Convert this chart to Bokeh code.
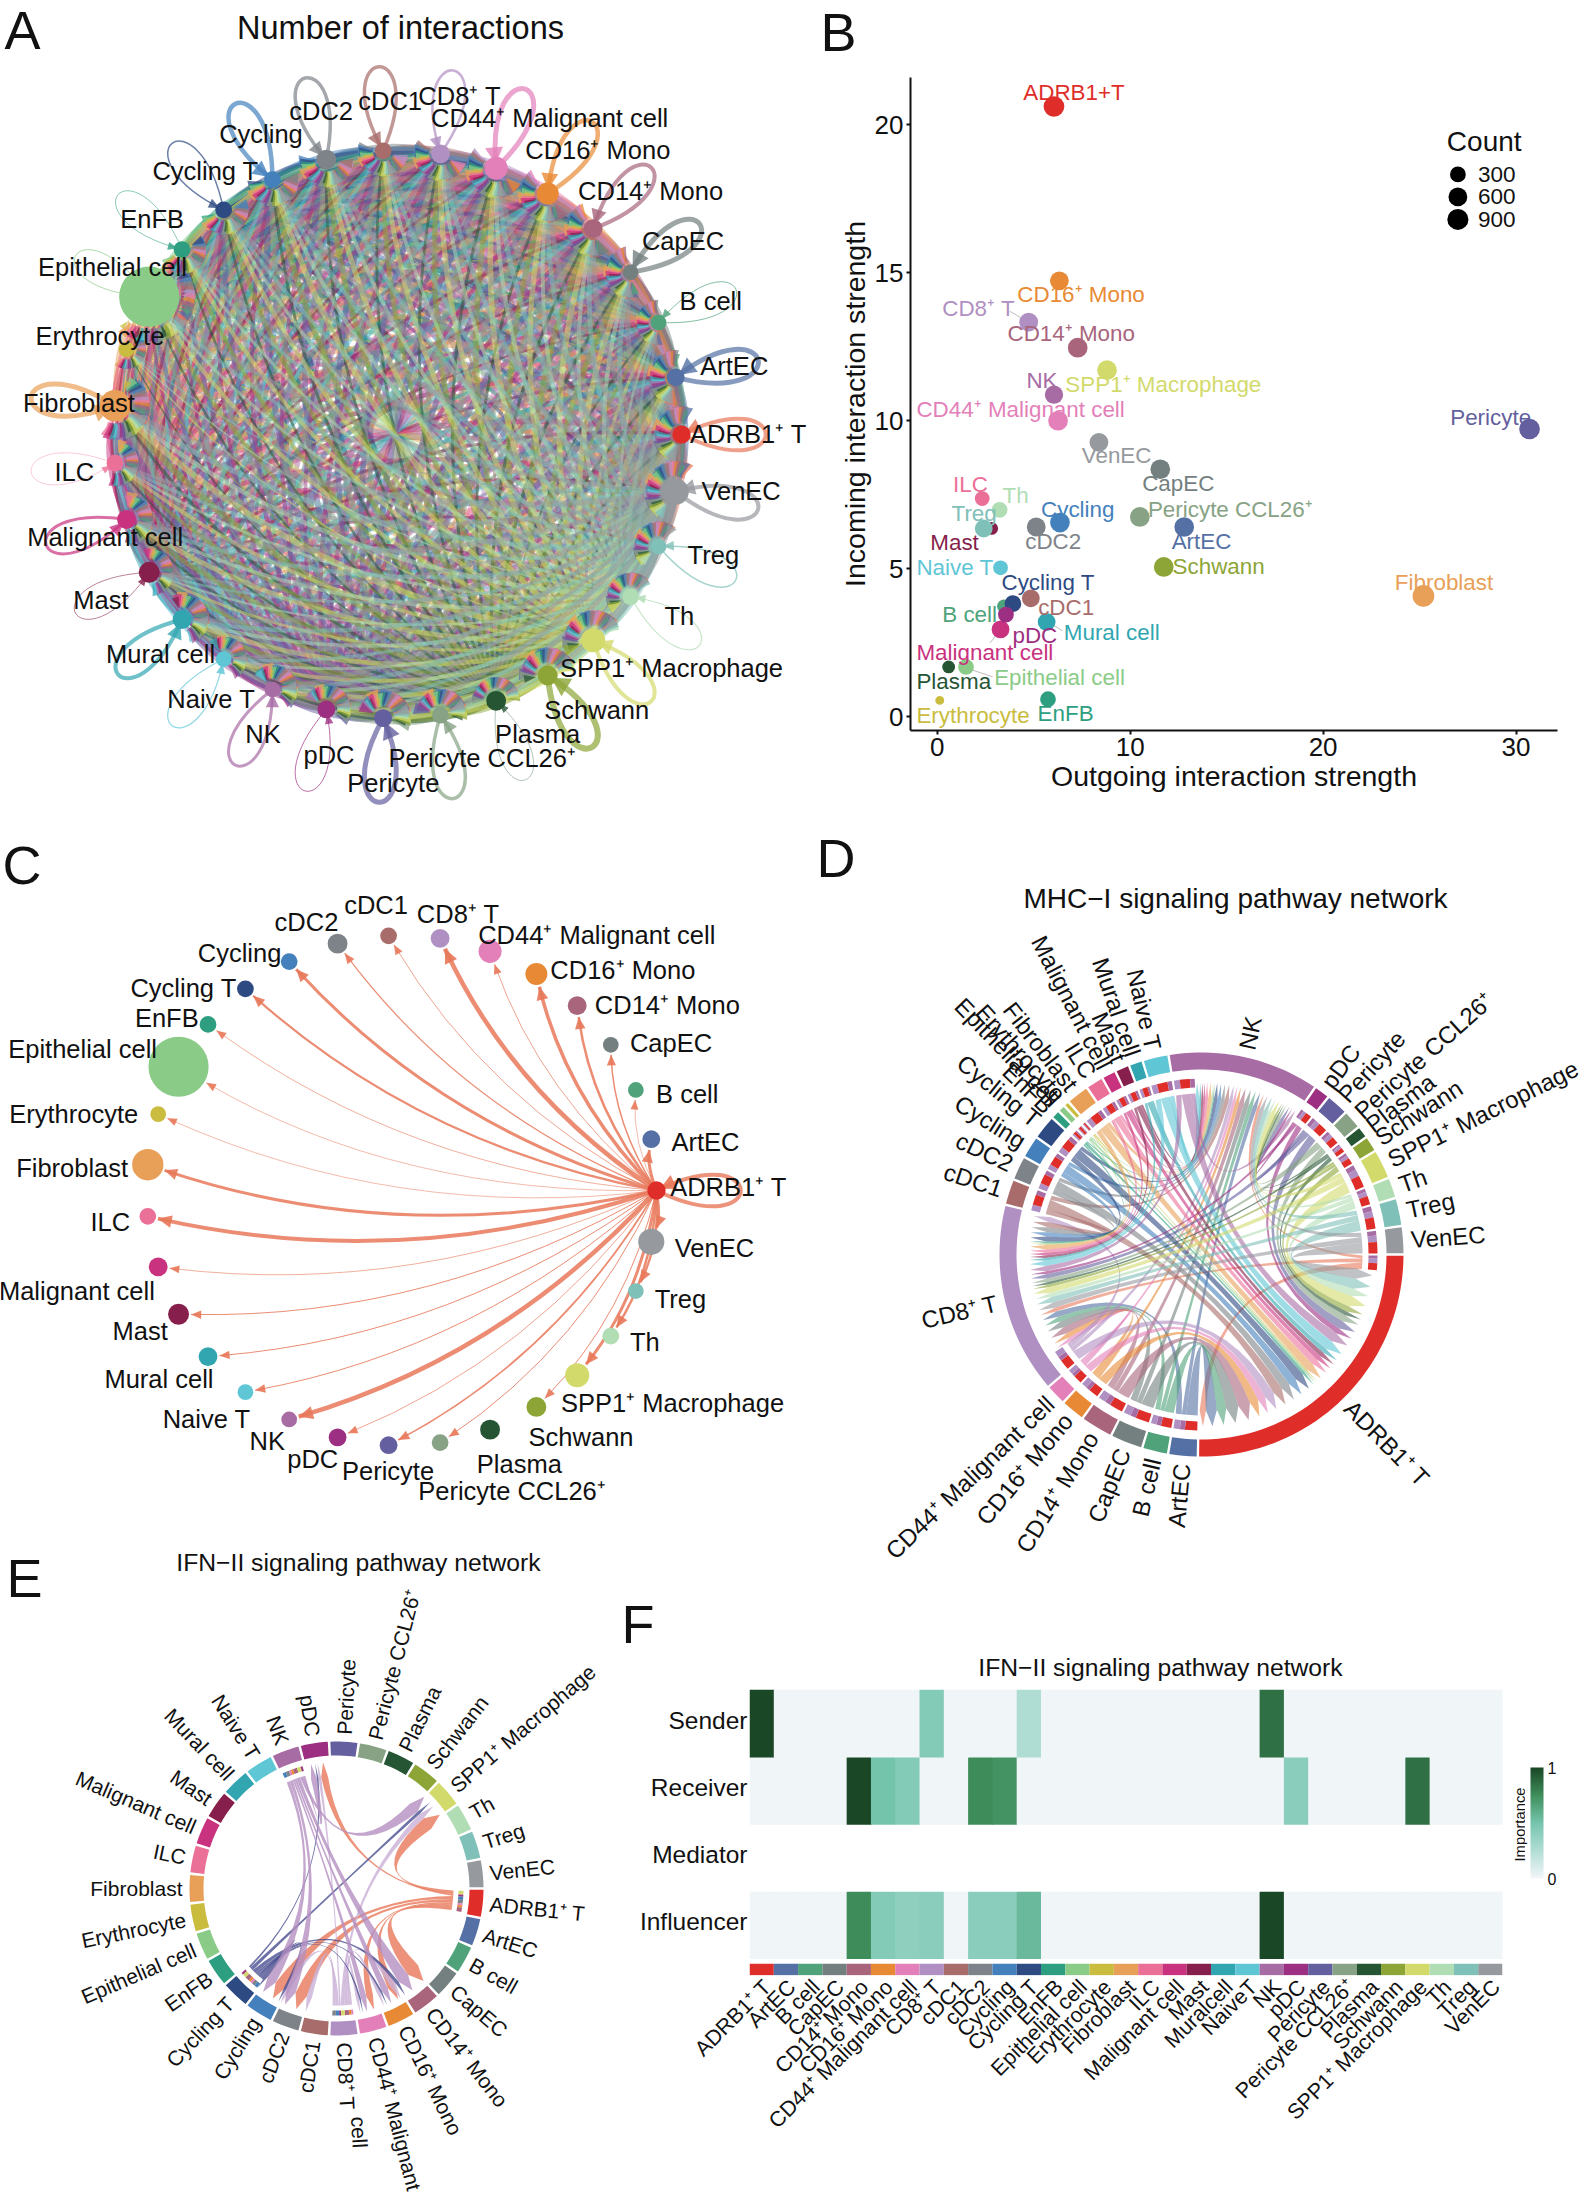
import math
from bokeh.plotting import figure
from bokeh.layouts import row, column
from bokeh.models import ColumnDataSource, Range1d, FixedTicker, LinearColorMapper, ColorBar
from bokeh.core.properties import value
from bokeh.embed import file_html
from bokeh.resources import INLINE

FONT = "Liberation Sans"

# ---------- shared data ----------
cells = ["ADRB1⁺ T", "ArtEC", "B cell", "CapEC", "CD14⁺ Mono", "CD16⁺ Mono", "CD44⁺ Malignant cell", "CD8⁺ T",
         "cDC1", "cDC2", "Cycling", "Cycling T", "EnFB", "Epithelial cell", "Erythrocyte", "Fibroblast", "ILC",
         "Malignant cell", "Mast", "Mural cell", "Naive T", "NK", "pDC", "Pericyte", "Pericyte CCL26⁺", "Plasma",
         "Schwann", "SPP1⁺ Macrophage", "Th", "Treg", "VenEC"]
colors = ["#DF2E2A", "#5470A4", "#4FA27A", "#73807F", "#A8657C", "#E88A35", "#E37FB9", "#B08FC2",
          "#A86C6A", "#7E8389", "#4481BC", "#2E4A82", "#2D9F80", "#8BCB88", "#C9BC3F", "#E8A058", "#EB7098",
          "#C9327F", "#861F4B", "#31A6B1", "#5FC6D6", "#A86CA5", "#9C2F82", "#645F9F", "#87A284", "#265533",
          "#8CA536", "#D3DA6C", "#B0DDB4", "#7FC0B8", "#96999E"]
chord_colors = ["#E8785A"] + colors[1:]
salmon = "#E8785A"

# B: outgoing, incoming, count
outgoing = [6.05, 12.8, 3.46, 11.56, 7.28, 6.33, 6.26, 4.74, 4.85, 5.13, 6.36, 3.92, 5.74, 1.49, 0.13, 25.2, 2.33,
            3.28, 2.82, 5.67, 3.28, 6.05, 3.56, 30.7, 10.5, 0.59, 11.74, 8.8, 3.23, 2.41, 8.38]
incoming = [20.62, 6.41, 3.73, 8.36, 12.47, 14.73, 10.0, 13.33, 4.0, 6.41, 6.56, 3.82, 0.59, 1.68, 0.55, 4.08, 7.37,
            2.95, 6.36, 3.2, 5.03, 10.88, 3.45, 9.72, 6.75, 1.68, 5.06, 11.71, 6.99, 6.36, 9.27]
counts = [844, 711, 159, 711, 711, 600, 711, 600, 490, 600, 711, 390, 302, 302, 1, 988, 225,
          490, 105, 490, 225, 544, 302, 844, 711, 105, 711, 711, 302, 490, 600]
legend_counts = [300, 600, 900]
b_names = ["ADRB1+T"] + cells[1:]
b_lab_x = [4.46, 12.15, 0.26, 10.62, 3.64, 4.15, -1.08, 0.26, 5.23, 4.56, 5.38, 3.33, 5.2, 2.95, -1.08, 23.72, 0.82,
           -1.08, -0.36, 6.56, -1.08, 4.62, 3.9, 26.59, 10.92, -1.08, 12.2, 6.64, 3.38, 0.74, 7.49]
b_lab_y = [21.09, 5.92, 3.45, 7.88, 12.94, 14.25, 10.38, 13.8, 3.68, 5.92, 7.01, 4.54, 0.1, 1.31, 0.05, 4.54, 7.86,
           2.16, 5.87, 2.83, 5.03, 11.36, 2.73, 10.1, 7.01, 1.19, 5.06, 11.23, 7.48, 6.86, 8.81]
b_lead_x0 = [3.76, 2.75, 1.7, 6.0]
b_lead_y0 = [13.7, 2.5, 1.6, 3.1]
b_lead_x1 = [4.74, 3.28, 2.87, 6.5]
b_lead_y1 = [13.33, 2.95, 1.35, 2.9]

# A/C: network
vertex_size = [35, 34, 30, 30, 36, 42, 44, 36, 32, 38, 32, 32, 32, 115, 30, 60, 32, 36, 40, 36, 30, 30, 34, 34, 32, 38,
               38, 46, 32, 30, 50]
loop_width = [4, 5, 1, 5, 4, 4.5, 5, 2.5, 3.5, 3.5, 4.5, 1.5, 0.8, 1, 0, 5, 0.5, 3, 0.8, 4, 1.2, 3, 1, 5, 3.5, 0.5,
              6, 4, 1.2, 1.5, 4]
adrb1_edges = [4, 3, 0.6, 1.5, 2.5, 3.5, 0.8, 4.5, 0.8, 1.2, 3, 2.2, 0.7, 0.6, 0.6, 3, 4, 0.7, 1, 1, 1, 4.5, 0.8, 1.8,
               1, 0, 1, 3, 2.5, 2.5, 2.5]

a_lab_x = [1430, 1403, 1358, 1305, 1243, 1142, 1050, 878, 745, 613, 498, 392, 290, 214, 190, 150, 141, 200, 192, 306,
           403, 502, 628, 751, 921, 1027, 1140, 1283, 1298, 1363, 1416]
a_lab_y = [828, 698, 574, 460, 365, 285, 225, 182, 193, 212, 256, 326, 418, 510, 642, 770, 901, 1026, 1146, 1250, 1335,
           1403, 1442, 1497, 1449, 1403, 1357, 1276, 1176, 1060, 938]
c_lab_x = [1392, 1348, 1313, 1282, 1275, 1190, 1140, 875, 718, 585, 457, 350, 318, 157, 140, 137, 210, 146, 267, 303,
           394, 510, 597, 741, 978, 992, 1110, 1285, 1232, 1300, 1365]
c_lab_y = [798, 697, 590, 476, 390, 313, 234, 186, 166, 206, 274, 352, 420, 490, 635, 757, 878, 1031, 1122, 1228, 1318,
           1367, 1407, 1435, 1480, 1418, 1358, 1282, 1146, 1049, 936]

# D: MHC-I flows from each cell type to the three receivers
mhc_to_adrb1 = [2.4, 4.2, 3.6, 4.7, 4.6, 3.3, 2.9, 3.6, 3.5, 3.3, 3.1, 3.3, 1.0, 0.8, 0.5, 3.1, 2.3, 1.8, 1.8, 1.8, 3.6,
                3.5, 2.1, 3.1, 2.5, 1.5, 2.1, 4.1, 2.9, 3.9, 3.9]
mhc_to_cd8 = [1.5, 2.2, 1.9, 2.5, 2.6, 1.9, 1.6, 2.0, 2.0, 1.9, 1.7, 1.9, 0.6, 0.4, 0.3, 1.7, 1.3, 1.0, 1.0, 1.0, 2.0,
              2.0, 1.1, 1.7, 1.4, 0.9, 1.1, 2.3, 1.6, 2.1, 2.2]
mhc_to_nk = [1.1, 1.7, 1.6, 1.9, 1.9, 1.4, 1.1, 1.5, 1.6, 1.4, 1.3, 1.4, 0.4, 0.35, 0.2, 1.3, 1.0, 0.8, 0.8, 0.7, 1.5,
             1.6, 0.9, 1.3, 1.1, 0.6, 0.9, 1.7, 1.1, 1.7, 1.6]
mhc_receivers = [0, 7, 21]

# E: IFN-II flows
ifn_senders = [0, 7, 11, 21]
ifn_sender_colors = [salmon, "#C9B0D6", "#4A4F90", "#B48FC0"]
ifn_receivers = [4, 5, 6, 9, 10, 22, 27]
ifn_flow = [[1.0, 0.55, 0.5, 0.85, 0.8, 0.5, 0.95],
            [0.45, 0.25, 0.22, 0.38, 0.36, 0.2, 0.42],
            [0.25, 0.14, 0.12, 0.2, 0.2, 0.12, 0.22],
            [0.85, 0.47, 0.42, 0.72, 0.7, 0.42, 0.8]]

# F: heatmap
f_names = [c.replace("Mural cell", "Muralcell").replace("Naive T", "NaiveT") for c in cells]
f_roles = ["Influencer", "Mediator", "Receiver", "Sender"]
f_sender = {0: 1.0, 7: 0.45, 11: 0.25, 21: 0.85}
f_receiver = {4: 1.0, 5: 0.5, 6: 0.45, 9: 0.75, 10: 0.72, 22: 0.42, 27: 0.85}
f_influencer = {4: 0.75, 5: 0.45, 6: 0.4, 7: 0.42, 9: 0.42, 10: 0.42, 11: 0.55, 21: 1.0}
importance_colors = ["#F0F5F8", "#B0DDD5", "#76C5AE", "#3F8F5C", "#1A4726"]


# ---------- helpers ----------
def panel(x0, x1, y0, y1, **kw):
    p = figure(width=int(x1 - x0), height=int(y1 - y0), x_range=Range1d(x0, x1), y_range=Range1d(y1, y0),
               x_axis_type=None, y_axis_type=None, output_backend="svg", toolbar_location=None, min_border=0,
               outline_line_color=None, border_fill_color=None, background_fill_color=None, frame_align=False, **kw)
    p.grid.visible = False
    return p


def txt(p, xs, ys, labels, size, color="#111111", angle=None, align=None, baseline="middle"):
    n = len(xs)
    src = ColumnDataSource(dict(x=xs, y=ys, t=labels,
                                c=color if isinstance(color, list) else [color] * n,
                                an=angle if angle is not None else [0] * n,
                                al=align if align is not None else ["center"] * n))
    p.text("x", "y", text="t", source=src, text_color="c", angle="an", angle_units="deg", text_align="al",
           text_baseline=baseline, text_font=value(FONT), text_font_size=value(f"{size}px"))


def pt(cx, cy, a, r):
    t = math.radians(a)
    return cx + r * math.cos(t), cy + r * math.sin(t)


def arc(cx, cy, a1, a2, r, step=2.0):
    n = max(2, int(abs(a2 - a1) / step) + 2)
    return [pt(cx, cy, a1 + (a2 - a1) * i / (n - 1), r) for i in range(n)]


def ring_poly(cx, cy, a1, a2, r0, r1):
    pts = arc(cx, cy, a1, a2, r1) + arc(cx, cy, a2, a1, r0)
    return [q[0] for q in pts], [q[1] for q in pts]


def bez(p0, c, p1, n=14):
    out = []
    for i in range(n + 1):
        t = i / n
        out.append(((1 - t) ** 2 * p0[0] + 2 * t * (1 - t) * c[0] + t * t * p1[0],
                    (1 - t) ** 2 * p0[1] + 2 * t * (1 - t) * c[1] + t * t * p1[1]))
    return out


def ribbon(cx, cy, a1, a2, b1, b2, r0, rs, rt, k=0.15):
    am, bm = math.radians((a1 + a2) / 2), math.radians((b1 + b2) / 2)
    ctrl = (cx + k * r0 * (math.cos(am) + math.cos(bm)) / 2, cy + k * r0 * (math.sin(am) + math.sin(bm)) / 2)
    pts = arc(cx, cy, a1, a2, r0)
    pts += bez(pt(cx, cy, a2, r0), ctrl, pt(cx, cy, b1, rs))
    pts += [pt(cx, cy, (b1 + b2) / 2, rt)]
    pts += bez(pt(cx, cy, b2, rs), ctrl, pt(cx, cy, a1, r0))
    return [q[0] for q in pts], [q[1] for q in pts]


def radial_labels(p, cx, cy, mids, r, labels, size):
    xs, ys, an, al = [], [], [], []
    for m in mids:
        x, y = pt(cx, cy, m, r)
        xs.append(x); ys.append(y)
        c = math.cos(math.radians(m))
        if c >= 0:
            an.append(-m); al.append("left")
        else:
            an.append(180 - m); al.append("right")
    txt(p, xs, ys, labels, size, angle=an, align=al)


def edge_geom(S, T, rT, k=0.16):
    dx, dy = T[0] - S[0], T[1] - S[1]
    C = ((S[0] + T[0]) / 2 + k * dy, (S[1] + T[1]) / 2 - k * dx)
    ux, uy = T[0] - C[0], T[1] - C[1]
    L = math.hypot(ux, uy)
    ux, uy = ux / L, uy / L
    tip = (T[0] - ux * (rT + 2), T[1] - uy * (rT + 2))
    return C, tip, (ux, uy)


def arrow_poly(tip, u, length, half):
    bx, by = tip[0] - u[0] * length, tip[1] - u[1] * length
    return [tip[0], bx - u[1] * half, bx + u[1] * half], [tip[1], by + u[0] * half, by - u[0] * half]


def draw_loops(p, nodes, cx, cy, widths, cols, alpha, L=125, th=26):
    d = dict(x0=[], y0=[], x1=[], y1=[], c1x=[], c1y=[], c2x=[], c2y=[], w=[], c=[])
    ax, ay, ac = [], [], []
    for i, N_ in enumerate(nodes):
        if widths[i] <= 0:
            continue
        base = math.atan2(N_[1] - cy, N_[0] - cx)
        t1, t2 = base + math.radians(th), base - math.radians(th)
        c1 = (N_[0] + L * math.cos(t1), N_[1] + L * math.sin(t1))
        c2 = (N_[0] + L * math.cos(t2), N_[1] + L * math.sin(t2))
        for k, v in zip(["x0", "y0", "x1", "y1", "c1x", "c1y", "c2x", "c2y"],
                        [N_[0], N_[1], N_[0], N_[1], c1[0], c1[1], c2[0], c2[1]]):
            d[k].append(v)
        d["w"].append(widths[i]); d["c"].append(cols[i])
        ul = math.hypot(N_[0] - c2[0], N_[1] - c2[1])
        u = ((N_[0] - c2[0]) / ul, (N_[1] - c2[1]) / ul)
        tip = (N_[0] - u[0] * 4, N_[1] - u[1] * 4)
        xs, ys = arrow_poly(tip, u, 9 + 1.6 * widths[i], 3 + 1.2 * widths[i])
        ax.append(xs); ay.append(ys); ac.append(cols[i])
    p.bezier("x0", "y0", "x1", "y1", "c1x", "c1y", "c2x", "c2y", source=ColumnDataSource(d), line_color="c",
             line_width="w", line_alpha=alpha)
    p.patches(ax, ay, fill_color=ac, fill_alpha=alpha + 0.1, line_color=None)


# ---------- layout bands ----------
SPLIT = 815          # right column starts here
LEFT_W = 862         # left panels overlap the right column (both transparent)
RIGHT = 1592
BOTTOM = 2195
LEFT_END = 1545      # bottom row starts here
D_END = 1890         # panel D's pixel canvas also carries F's title and colour-bar title
E_W = 655
F_LEFT = 610
N = len(cells)

# ---------- A ----------
pA = panel(0, LEFT_W, 0, 830)
ACX, ACY, AR = 397, 434, 284
nodesA = [pt(ACX, ACY, -i * 360 / N, AR) for i in range(N)]
ea = dict(x0=[], y0=[], x1=[], y1=[], cx=[], cy=[], w=[], c=[])
arr_x, arr_y, arr_c = [], [], []
for i in range(N):
    for j in range(N):
        if i == j:
            continue
        w = 1.4 + 6 * math.sqrt(counts[i] * counts[j]) / 1000
        rT = vertex_size[j] / 1.912 / 2
        C, tip, u = edge_geom(nodesA[i], nodesA[j], rT, k=0.16)
        ea["x0"].append(nodesA[i][0]); ea["y0"].append(nodesA[i][1])
        ea["x1"].append(tip[0]); ea["y1"].append(tip[1])
        ea["cx"].append(C[0]); ea["cy"].append(C[1])
        ea["w"].append(w); ea["c"].append(chord_colors[i])
        xs, ys = arrow_poly(tip, u, 7 + 1.6 * w, 1.8 + 0.7 * w)
        arr_x.append(xs); arr_y.append(ys); arr_c.append(chord_colors[i])
pA.quadratic("x0", "y0", "x1", "y1", "cx", "cy", source=ColumnDataSource(ea), line_color="c", line_width="w",
             line_alpha=0.5)
pA.patches(arr_x, arr_y, fill_color=arr_c, fill_alpha=0.75, line_color=None)
draw_loops(pA, nodesA, ACX, ACY, loop_width, chord_colors, 0.7)
pA.scatter([q[0] for q in nodesA], [q[1] for q in nodesA], size=[s / 1.912 for s in vertex_size], color=colors,
           line_color=None)
txt(pA, [x / 1.912 for x in a_lab_x], [y / 1.912 for y in a_lab_y], cells, 25.5)
txt(pA, [400], [27], ["Number of interactions"], 32.5)
txt(pA, [4, 820], [29, 31], ["A", "B"], 54, align=["left", "left"])

# ---------- C ----------
pC = panel(0, LEFT_W, 830, LEFT_END)
CCX, CCY, CR = 401, 1190, 255
nodesC = [pt(CCX, CCY, -i * 360 / N, CR) for i in range(N)]
ec = dict(x0=[], y0=[], x1=[], y1=[], cx=[], cy=[], w=[])
arr_x, arr_y = [], []
for j in range(1, N):
    w = adrb1_edges[j]
    if w <= 0:
        continue
    rT = vertex_size[j] / 1.912 / 2
    C, tip, u = edge_geom(nodesC[0], nodesC[j], rT, k=0.14)
    ec["x0"].append(nodesC[0][0]); ec["y0"].append(nodesC[0][1])
    ec["x1"].append(tip[0]); ec["y1"].append(tip[1])
    ec["cx"].append(C[0]); ec["cy"].append(C[1]); ec["w"].append(w)
    xs, ys = arrow_poly(tip, u, 9 + 1.2 * w, 3.5 + 0.7 * w)
    arr_x.append(xs); arr_y.append(ys)
pC.quadratic("x0", "y0", "x1", "y1", "cx", "cy", source=ColumnDataSource(ec), line_color=salmon, line_width="w",
             line_alpha=0.85)
pC.patches(arr_x, arr_y, fill_color=salmon, fill_alpha=0.9, line_color=None)
draw_loops(pC, nodesC[:1], CCX, CCY, adrb1_edges[:1], [salmon], 0.8)
pC.scatter([q[0] for q in nodesC], [q[1] for q in nodesC], size=[s / 1.912 for s in vertex_size], color=colors,
           line_color=None)
txt(pC, [x / 1.912 for x in c_lab_x], [830 + y / 2.24 for y in c_lab_y], cells, 25.5)
txt(pC, [2], [864], ["C"], 54, align=["left"])

# ---------- E ----------
pE = panel(0, E_W, LEFT_END, BOTTOM)
ECX, ECY = 336, 1888
step = 360 / N
e_start = [i * step + 0.5 for i in range(N)]
e_end = [i * step + step - 0.5 for i in range(N)]
xs, ys = [], []
for i in range(N):
    a, b = ring_poly(ECX, ECY, e_start[i], e_end[i], 133, 147)
    xs.append(a); ys.append(b)
pE.patches(xs, ys, fill_color=colors, line_color=None)
col_tot = [sum(ifn_flow[s][r] for s in range(4)) for r in range(7)]
rib_x, rib_y, rib_c, trk_x, trk_y, trk_c = [], [], [], [], [], []
tgt_ranges = {}
for r, ri in enumerate(ifn_receivers):
    w = (e_end[ri] - e_start[ri]) * 1.7 * col_tot[r] / max(col_tot)
    mid = (e_start[ri] + e_end[ri]) / 2
    srcs = sorted(range(4), key=lambda s: -((e_start[ifn_senders[s]] - mid) % 360))
    a = mid - w / 2
    for s in srcs:
        wd = w * ifn_flow[s][r] / col_tot[r]
        tgt_ranges[(s, r)] = (a, a + wd)
        a += wd
for s, si in enumerate(ifn_senders):
    tot = sum(ifn_flow[s])
    width = e_end[si] - e_start[si] - 1
    a = e_start[si] + 0.5
    order = sorted(range(7), key=lambda r: -((e_start[ifn_receivers[r]] - e_start[si]) % 360))
    for r in order:
        wd = width * ifn_flow[s][r] / tot
        t = tgt_ranges[(s, r)]
        x, y = ribbon(ECX, ECY, a, a + wd, t[0], t[1], 117, 112, 127)
        rib_x.append(x); rib_y.append(y); rib_c.append(ifn_sender_colors[s])
        x, y = ring_poly(ECX, ECY, a, a + wd, 122, 127)
        trk_x.append(x); trk_y.append(y); trk_c.append(colors[ifn_receivers[r]])
        a += wd
pE.patches(rib_x, rib_y, fill_color=rib_c, fill_alpha=0.8, line_color=None)
pE.patches(trk_x, trk_y, fill_color=trk_c, line_color=None)
e_labels = [c.replace("CD44⁺ Malignant cell", "CD44⁺ Malignant") for c in cells]
radial_labels(pE, ECX, ECY, [(e_start[i] + e_end[i]) / 2 for i in range(N)], 154, e_labels, 21)
txt(pE, [358], [2116], ["cell"], 21, angle=[-87], align=["left"])
txt(pE, [358], [1562], ["IFN−II signaling pathway network"], 24.7)
txt(pE, [6, 621], [1577, 1623], ["E", "F"], 54, align=["left", "left"])

# ---------- B ----------
pB = figure(width=RIGHT - SPLIT, height=810, x_range=Range1d(-1.387, 32.15), y_range=Range1d(-0.467, 21.6),
            output_backend="svg", toolbar_location=None, min_border_left=int(910.8 - SPLIT),
            min_border_right=int(RIGHT - 1556.4), min_border_top=77, min_border_bottom=80, outline_line_color=None,
            border_fill_color=None, background_fill_color=None, frame_align=False)
pB.grid.visible = False
pB.xaxis.ticker = FixedTicker(ticks=[0, 10, 20, 30])
pB.yaxis.ticker = FixedTicker(ticks=[0, 5, 10, 15, 20])
pB.xaxis.axis_label = "Outgoing interaction strength"
pB.yaxis.axis_label = "Incoming interaction strength"
for ax in (pB.xaxis[0], pB.yaxis[0]):
    ax.axis_line_width = 2
    ax.axis_line_color = "#111111"
    ax.major_tick_line_color = "#111111"
    ax.major_tick_line_width = 2
    ax.major_tick_in = 0
    ax.major_tick_out = 4
    ax.minor_tick_line_color = None
    ax.axis_label_text_font = FONT
    ax.axis_label_text_font_style = "normal"
    ax.axis_label_text_font_size = "28.5px"
    ax.axis_label_text_color = "#111111"
    ax.major_label_text_font = FONT
    ax.major_label_text_font_size = "26px"
    ax.major_label_text_color = "#111111"
    ax.axis_label_standoff = 1
    ax.major_label_standoff = 3
pB.segment(b_lead_x0, b_lead_y0, b_lead_x1, b_lead_y1, line_color="#BBBBBB", line_width=1)
sizes_b = [8.5 + 0.42 * math.sqrt(c) for c in counts]
pB.scatter(outgoing, incoming, size=sizes_b, color=colors, line_color=None)
txt(pB, b_lab_x, b_lab_y, b_names, 22.4, color=colors, align=["left"] * N)
# legend
bx = lambda px: (px - 937.5) / 19.25
by = lambda py: (715.8 - py) / 29.54
pB.scatter([bx(1457)] * 3, [by(174.5), by(197), by(219.4)], size=[8.5 + 0.42 * math.sqrt(c) for c in legend_counts],
           color="black", line_color=None)
txt(pB, [bx(1477)] * 3, [by(174.5), by(197), by(219.4)], [str(c) for c in legend_counts], 22.5, align=["left"] * 3)
txt(pB, [bx(1446)], [by(142)], ["Count"], 28, align=["left"])

# ---------- D ----------
pD = panel(SPLIT, RIGHT, 810, D_END)
DCX, DCY = 1201, 1254
flows = [mhc_to_adrb1, mhc_to_cd8, mhc_to_nk]
out_tot = [sum(f[i] for f in flows) for i in range(N)]
in_tot = [0.0] * N
for r, f in zip(mhc_receivers, flows):
    in_tot[r] = sum(f)
sec = [out_tot[i] + in_tot[i] for i in range(N)]
GAP = 0.7
scale = (360 - N * GAP) / sum(sec)
d_start, a = [], 0.0
for i in range(N):
    d_start.append(a + GAP / 2)
    a += sec[i] * scale + GAP
d_end = [d_start[i] + sec[i] * scale for i in range(N)]
xs, ys = [], []
for i in range(N):
    a, b = ring_poly(DCX, DCY, d_start[i], d_end[i], 185, 202)
    xs.append(a); ys.append(b)
pD.patches(xs, ys, fill_color=colors, line_color=None)
in_rng = {}
for ti, f in zip(mhc_receivers, flows):
    a = d_start[ti] + out_tot[ti] * scale
    srcs = sorted(range(N), key=lambda s: -((d_start[s] - d_start[ti]) % 360) if s != ti else 1)
    for s in srcs:
        in_rng[(s, ti)] = (a, a + f[s] * scale)
        a += f[s] * scale
rib_x, rib_y, rib_c, trk_x, trk_y, trk_c = [], [], [], [], [], []
for s in range(N):
    a = d_start[s]
    order = sorted(range(3), key=lambda k: -((d_start[mhc_receivers[k]] - d_start[s]) % 360))
    for k in order:
        wd = flows[k][s] * scale
        ti = mhc_receivers[k]
        t = in_rng[(s, ti)]
        x, y = ribbon(DCX, DCY, a, a + wd, t[0], t[1], 161, 156, 172)
        rib_x.append(x); rib_y.append(y); rib_c.append(chord_colors[s])
        x, y = ring_poly(DCX, DCY, a, a + wd, 167, 176)
        trk_x.append(x); trk_y.append(y); trk_c.append(colors[ti])
        a += wd
pD.patches(rib_x, rib_y, fill_color=rib_c, fill_alpha=0.6, line_color=None)
pD.patches(trk_x, trk_y, fill_color=trk_c, line_color=None)
radial_labels(pD, DCX, DCY, [(d_start[i] + d_end[i]) / 2 for i in range(N)], 210, cells, 24)
txt(pD, [1235], [898], ["MHC−I signaling pathway network"], 28)
txt(pD, [816], [857], ["D"], 54, align=["left"])
# F's title and colour-bar title live on this pixel canvas
txt(pD, [1160], [1667], ["IFN−II signaling pathway network"], 24.7)
txt(pD, [1519], [1824], ["Importance"], 14.8, angle=[90])


# ---------- F ----------
def hex2rgb(h):
    return tuple(int(h[i:i + 2], 16) for i in (1, 3, 5))


smooth = []
for i in range(64):
    t = i / 63 * (len(importance_colors) - 1)
    k = min(int(t), len(importance_colors) - 2)
    f = t - k
    a, b = hex2rgb(importance_colors[k]), hex2rgb(importance_colors[k + 1])
    smooth.append("#%02x%02x%02x" % tuple(round(a[n] + (b[n] - a[n]) * f) for n in range(3)))
mapper = LinearColorMapper(palette=smooth, low=0, high=1, nan_color="white")

F_TOP = LEFT_END
pF = figure(width=RIGHT - F_LEFT, height=BOTTOM - F_TOP, x_range=Range1d(0, 31), y_range=Range1d(-0.26, 4),
            output_backend="svg", toolbar_location=None, min_border_left=139, min_border_right=RIGHT - 1502,
            min_border_top=int(1689.5 - F_TOP), min_border_bottom=BOTTOM - 1975, outline_line_color=None,
            border_fill_color=None, background_fill_color=None, frame_align=False,
            margin=(0, 0, 0, F_LEFT - E_W))
pF.grid.visible = False
xc, yc, val = [], [], []
rows = [f_influencer, None, f_receiver, f_sender]
for ry, d in enumerate(rows):
    for i in range(N):
        xc.append(i + 0.5); yc.append(ry + 0.5)
        val.append(float("nan") if d is None else d.get(i, 0.0))
srcF = ColumnDataSource(dict(x=xc, y=yc, v=val))
pF.rect("x", "y", width=1, height=1, source=srcF, fill_color={"field": "v", "transform": mapper}, line_color=None,
        dilate=True)
pF.quad(left=list(range(N)), right=[i + 1 for i in range(N)], top=[-0.085] * N, bottom=[-0.255] * N, color=colors,
        line_color=None)
x_ticks = [i + 0.75 for i in range(N)]
y_ticks = [0.54, 1.54, 2.54, 3.54]
pF.xaxis.ticker = FixedTicker(ticks=x_ticks)
pF.xaxis.major_label_overrides = {x_ticks[i]: f_names[i] for i in range(N)}
pF.xaxis.major_label_orientation = math.pi / 4
pF.yaxis.ticker = FixedTicker(ticks=y_ticks)
pF.yaxis.major_label_overrides = {y_ticks[i]: f_roles[i] for i in range(4)}
for ax in (pF.xaxis[0], pF.yaxis[0]):
    ax.axis_line_color = None
    ax.major_tick_line_color = None
    ax.minor_tick_line_color = None
    ax.major_label_text_font = FONT
    ax.major_label_text_color = "#111111"
pF.xaxis.major_label_text_font_size = "21.5px"
pF.yaxis.major_label_text_font_size = "24.5px"
pF.xaxis.major_label_standoff = 2
pF.yaxis.major_label_standoff = -4
cb = ColorBar(color_mapper=mapper, width=13, height=111, location=(781, 97), padding=0, margin=0,
              ticker=FixedTicker(ticks=[0, 1]), major_tick_line_color=None, bar_line_color=None,
              major_label_text_font=FONT, major_label_text_font_size="16px", major_label_text_color="#111111",
              label_standoff=4, background_fill_color=None, border_line_color=None)
pF.add_layout(cb)

top = row(column(pA, pC), column(pB, pD, margin=(0, 0, 0, SPLIT - LEFT_W)))
bottom = row(pE, pF, margin=(LEFT_END - D_END, 0, 0, 0))
layout = column(top, bottom)
open("out.html", "w").write(file_html(layout, INLINE))
